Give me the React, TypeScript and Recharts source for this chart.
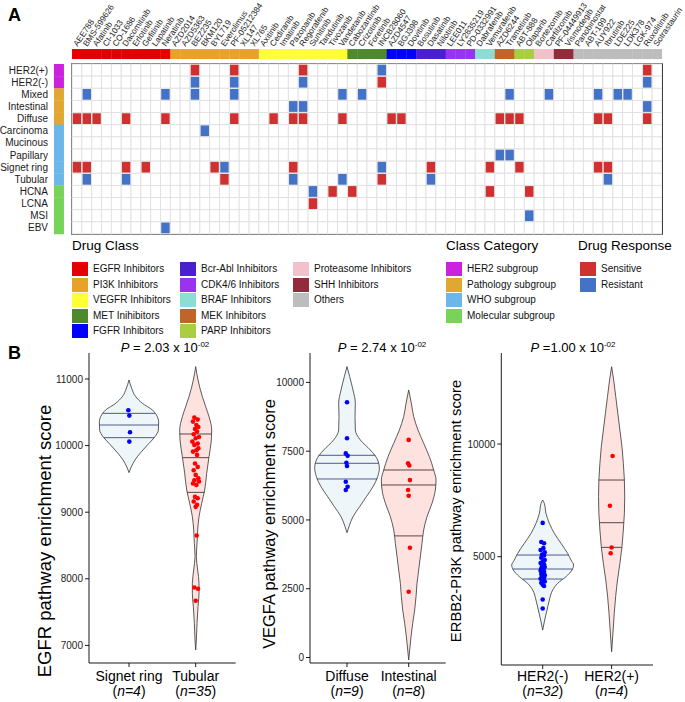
import React from 'react';
import { ScatterChart, ComposedChart, Scatter, Area, XAxis, YAxis, ReferenceArea, ReferenceLine } from 'recharts';

const FONT = '"Liberation Sans", Arial, Helvetica, sans-serif';

/* ================= Panel A data ================= */
const drugs = [
  'AEE788', 'BMS-599626', 'Afatinib', 'CI-1033', 'CO-1686', 'Dacomitinib', 'Erlotinib', 'Gefitinib', 'Lapatinib', 'Neratinib',
  'AZD2014', 'AZD5363', 'BEZ235', 'BKM120', 'BYL719', 'Everolimus', 'PF-05212384', 'XL147', 'XL765',
  'Axitinib', 'Cediranib', 'Imatinib', 'Pazopanib', 'Regorafenib', 'Sunitinib', 'Tandutinib', 'Tivozanib', 'Vandetanib',
  'Cabozantinib', 'Crizotinib', 'Foretinib', 'INCB28060',
  'AZD4547', 'BGJ398', 'Dovitinib',
  'Bosutinib', 'Dasatinib', 'Nilotinib',
  'LEE011', 'LY2835219', 'PD-0332991',
  'Dabrafenib', 'Vemurafenib',
  'AZD6244', 'Trametinib',
  'ABT-888', 'Olaparib',
  'Bortezomib', 'Carfilzomib',
  'PF-04449913', 'Vismodegib',
  'Panobinostat', 'ABT-199', 'AUY922', 'Ibrutinib', 'LDE225', 'LDK378', 'LGK-974', 'Ruxolitinib', 'Sotrastaurin',
];
const drugClassNames = [
  'EGFR Inhibitors', 'PI3K Inhibitors', 'VEGFR Inhibitors', 'MET Inihibitors', 'FGFR Inhibitors',
  'Bcr-Abl Inhibitors', 'CDK4/6 Inhibitors', 'BRAF Inhibitors', 'MEK Inhibitors', 'PARP Inhibitors',
  'Proteasome Inhibitors', 'SHH Inhibitors', 'Others',
];
const drugClassSizes = [10, 9, 9, 4, 3, 3, 3, 2, 2, 2, 2, 2, 9];
const drugClassColors = [
  '#E40000', '#E9A12E', '#FFFF33', '#4E8A2C', '#0000FF',
  '#4A20CC', '#9933EE', '#8CDDD2', '#C0652A', '#A9CD45',
  '#F2C1CC', '#922B3B', '#BDBDBD',
];
const rowNames = ['HER2(+)', 'HER2(-)', 'Mixed', 'Intestinal', 'Diffuse', 'Carcinoma', 'Mucinous', 'Papillary',
  'Signet ring', 'Tubular', 'HCNA', 'LCNA', 'MSI', 'EBV'];
const rowCategory = [0, 0, 1, 1, 1, 2, 2, 2, 2, 2, 3, 3, 3, 3];
const categoryNames = ['HER2 subgroup', 'Pathology subgroup', 'WHO subgroup', 'Molecular subgroup'];
const categoryColors = ['#CC22E0', '#E0A733', '#6CB6EA', '#77D35A'];
const responseNames = ['Sensitive', 'Resistant'];
const responseColors = ['#D0302F', '#4472C6'];
// drug column indices per row
const sensitiveCols = [
  [12, 16, 23, 58],
  [31],
  [],
  [],
  [0, 1, 2, 5, 9, 16, 20, 22, 23, 27, 32, 33, 43, 44, 45, 53, 54, 58],
  [],
  [],
  [],
  [0, 1, 5, 7, 14, 22, 36, 42, 45, 53, 54],
  [15, 31],
  [26, 28, 42, 46],
  [24],
  [],
  [],
];
const resistantCols = [
  [31],
  [12, 16, 23, 58],
  [1, 9, 12, 16, 27, 29, 44, 48, 53, 55, 56],
  [22, 23, 58],
  [],
  [13],
  [],
  [43, 44],
  [15, 31],
  [1, 5, 22, 27, 36, 54],
  [24],
  [],
  [46],
  [9],
];

/* ================= Panel B data ================= */
// violin outlines: [score, half-width in category units]
const signetOutline = [[10985, 0], [10860, 0.04], [10735, 0.1], [10635, 0.2], [10535, 0.35], [10434, 0.425], [10359, 0.445],
  [10234, 0.44], [10134, 0.39], [10034, 0.3], [9934, 0.21], [9834, 0.125], [9734, 0.06], [9594, 0]];
const signetQuant = [[10484, 0.39], [10309, 0.445], [10119, 0.38]];
const signetPts = [10530, 10450, 10200, 10060];
const signetJit = [-0.01, 0.005, 0.015, 0.005];

const tubularOutline = [[11185, 0], [10985, 0.035], [10735, 0.1], [10585, 0.15], [10434, 0.2], [10234, 0.24], [10084, 0.235],
  [9834, 0.2], [9584, 0.165], [9333, 0.135], [9133, 0.09], [8933, 0.05], [8733, 0.03], [8533, 0.02], [8332, 0.01],
  [8132, 0.03], [7932, 0.05], [7782, 0.05], [7582, 0.035], [7331, 0.02], [7081, 0.01], [6931, 0]];
const tubularQuant = [[10174, 0.24], [9819, 0.2], [9298, 0.13]];
const tubularPts = [10420, 10390, 10360, 10310, 10280, 10250, 10210, 10170, 10130, 10110,
  10060, 10030, 10010, 9960, 9930, 9910, 9860, 9730, 9680, 9630,
  9560, 9510, 9480, 9460, 9430, 9410, 9230, 9210, 9160, 9110,
  9080, 8650, 7870, 7850, 7670];
const tubularJit = [-0.02, 0.03, -0.04, 0.01, 0.04, -0.01, 0.02, -0.03, 0.05, 0.0,
  -0.05, 0.03, -0.02, 0.04, 0.01, -0.04, 0.02, -0.01, 0.03, -0.03,
  0.0, 0.04, -0.02, 0.05, -0.04, 0.01, -0.01, 0.03, -0.03, 0.02,
  0.0, 0.015, -0.02, 0.035, 0.0];

const diffuseOutline = [[10576, 0], [10212, 0.043], [9727, 0.097], [9242, 0.135], [8757, 0.13], [8272, 0.135], [7908, 0.216],
  [7545, 0.378], [7181, 0.497], [6878, 0.524], [6575, 0.497], [6211, 0.422], [5848, 0.314], [5484, 0.205], [5121, 0.097],
  [4757, 0.032], [4539, 0]];
const diffuseQuant = [[7351, 0.46], [7060, 0.514], [6490, 0.49]];
const diffusePts = [9280, 7970, 7420, 7330, 7080, 6960, 6390, 6210, 6090];
const diffuseJit = [0.0, 0.0, -0.02, 0.01, -0.01, 0.0, -0.02, 0.01, -0.02];

const intestinalOutline = [[9727, 0], [9242, 0.043], [8757, 0.081], [8272, 0.151], [7787, 0.243], [7302, 0.335], [6817, 0.405],
  [6454, 0.443], [6090, 0.432], [5606, 0.378], [5121, 0.297], [4636, 0.243], [4151, 0.216], [3666, 0.189], [3181, 0.162],
  [2697, 0.135], [2212, 0.119], [1727, 0.097], [1242, 0.065], [758, 0.038], [273, 0.016], [-91, 0]];
const intestinalQuant = [[6817, 0.405], [6272, 0.44], [4420, 0.23]];
const intestinalPts = [7910, 7060, 6980, 6450, 6090, 5880, 3990, 2390];
const intestinalJit = [0.0, -0.01, 0.01, 0.02, -0.01, 0.0, 0.02, 0.0];

const her2NegOutline = [[7515, 0], [7367, 0.024], [6923, 0.048], [6480, 0.097], [6036, 0.169], [5592, 0.266], [5148, 0.362],
  [4852, 0.411], [4630, 0.449], [4408, 0.425], [4112, 0.338], [3816, 0.217], [3520, 0.145], [3077, 0.097], [2633, 0.063],
  [2189, 0.029], [1745, 0]];
const her2NegQuant = [[5074, 0.377], [4453, 0.435], [4009, 0.29]];
const her2NegPts = [6500, 5650, 5600, 5380, 5300, 5200, 5100, 5050, 4950, 4850, 4780, 4720, 4660, 4600, 4540, 4480,
  4430, 4380, 4330, 4280, 4230, 4180, 4130, 4080, 4020, 3960, 3900, 3840, 3760, 3700, 3100, 2700];
const her2NegJit = [0.0, -0.02, 0.02, 0.01, -0.03, 0.03, -0.01, 0.02, -0.02, 0.03, 0.0, -0.03, 0.02, -0.01, 0.03, -0.02,
  0.01, -0.03, 0.02, 0.0, -0.02, 0.03, -0.01, 0.02, -0.03, 0.01, 0.03, -0.02, 0.0, 0.02, 0.0, 0.0];

const her2PosOutline = [[13433, 0], [12841, 0.03], [12102, 0.06], [11362, 0.09], [10622, 0.12], [9882, 0.15],
  [9143, 0.17], [8403, 0.185], [7663, 0.19], [6923, 0.185], [6184, 0.17], [5444, 0.15], [4704, 0.12], [3964, 0.085],
  [3225, 0.058], [2485, 0.038], [1745, 0.022], [783, 0]];
const her2PosQuant = [[8403, 0.185], [6509, 0.176], [5414, 0.149]];
const her2PosPts = [9470, 7260, 5410, 5150];
const her2PosJit = [0.014, -0.025, 0.0, -0.014];

/* ================= Panel A chart ================= */
const HM_X_DOMAIN: [number, number] = [-2.537, 59.5];
const HM_Y_DOMAIN: [number, number] = [-1.818, 13.668];
const HM_PLOT_W = 610;
const HM_PLOT_H = 188;
const COL_W = HM_PLOT_W / (HM_X_DOMAIN[1] - HM_X_DOMAIN[0]);
const ROW_H = HM_PLOT_H / (HM_Y_DOMAIN[1] - HM_Y_DOMAIN[0]);
const CLASS_BAR_ROW = -1.32;
const CATEGORY_BAR_COL = -1.83;

const drugClassOf: number[] = drugClassSizes.flatMap((n, g) => Array.from({ length: n }, () => g));
const gridCells = rowNames.flatMap((_, r) => drugs.map((__, c) => ({ c, r })));
const sensCells = sensitiveCols.flatMap((cols, r) => cols.map((c) => ({ c, r })));
const resCells = resistantCols.flatMap((cols, r) => cols.map((c) => ({ c, r })));
const classBar = drugs.map((_, c) => ({ c, r: CLASS_BAR_ROW, g: drugClassOf[c] }));
const categoryBar = rowNames.map((_, r) => ({ c: CATEGORY_BAR_COL, r, g: rowCategory[r] }));

const DrugTick = (p: any) => {
  const x = p.x + 0.5;
  const y = 47;
  return (
    <text x={x} y={y} transform={`rotate(-56 ${x} ${y})`} fontSize={8.3} fontFamily={FONT} fill="#1a1a1a">
      {drugs[Math.round(p.payload.value)]}
    </text>
  );
};
const RowTick = (p: any) => (
  <text x={48} y={p.y} dy={3.5} textAnchor="end" fontSize={10} fontFamily={FONT} fill="#1a1a1a">
    {rowNames[Math.round(p.payload.value)]}
  </text>
);

function Heatmap() {
  return (
    <ScatterChart width={685} height={240} margin={{ top: 47, right: 23, bottom: 4, left: 51 }}>
      <XAxis type="number" dataKey="c" orientation="top" domain={HM_X_DOMAIN} allowDataOverflow
        ticks={drugs.map((_, i) => i)} interval={0} height={1} axisLine={false} tickLine={false}
        tick={(p: any) => <DrugTick {...p} />} />
      <YAxis type="number" dataKey="r" domain={HM_Y_DOMAIN} reversed allowDataOverflow
        ticks={rowNames.map((_, i) => i)} interval={0} width={1} axisLine={false} tickLine={false}
        tick={(p: any) => <RowTick {...p} />} />
      <Scatter data={gridCells} isAnimationActive={false}
        shape={(p: any) => <rect x={p.cx - COL_W / 2} y={p.cy - ROW_H / 2} width={COL_W} height={ROW_H} fill="#ffffff" stroke="#e0e0e0" strokeWidth={0.9} />} />
      <Scatter data={sensCells} isAnimationActive={false}
        shape={(p: any) => <rect x={p.cx - COL_W / 2 + 0.7} y={p.cy - ROW_H / 2 + 0.7} width={COL_W - 1.4} height={ROW_H - 1.4} fill={responseColors[0]} />} />
      <Scatter data={resCells} isAnimationActive={false}
        shape={(p: any) => <rect x={p.cx - COL_W / 2 + 0.7} y={p.cy - ROW_H / 2 + 0.7} width={COL_W - 1.4} height={ROW_H - 1.4} fill={responseColors[1]} />} />
      <Scatter data={classBar} isAnimationActive={false}
        shape={(p: any) => <rect x={p.cx - COL_W / 2} y={p.cy - 5} width={COL_W + 0.3} height={10} fill={drugClassColors[p.payload.g]} />} />
      <Scatter data={categoryBar} isAnimationActive={false}
        shape={(p: any) => <rect x={p.cx - 5} y={p.cy - ROW_H / 2} width={10} height={ROW_H + 0.3} fill={categoryColors[p.payload.g]} />} />
      <ReferenceArea x1={-0.5} x2={59.5} y1={-0.5} y2={13.5} fill="none" fillOpacity={0} stroke="#111" strokeWidth={1.6} ifOverflow="visible" />
    </ScatterChart>
  );
}

/* ================= Legend ================= */
const LEG_ROWS = [269, 284.5, 300, 315.5, 331];

function Swatch({ x, y, color, label }: { x: number; y: number; color: string; label: string }) {
  return (
    <>
      <div style={{ position: 'absolute', left: x, top: y - 7, width: 16, height: 14, background: color }} />
      <div style={{ position: 'absolute', left: x + 21, top: y - 6, fontSize: 10, lineHeight: '12px', whiteSpace: 'nowrap', color: '#111' }}>{label}</div>
    </>
  );
}

function LegendBlock() {
  const colX = [72, 180, 293];
  const items: React.ReactNode[] = [];
  drugClassNames.forEach((name, i) => {
    const col = Math.floor(i / 5);
    const row = i % 5;
    items.push(<Swatch key={'d' + i} x={colX[col]} y={LEG_ROWS[row]} color={drugClassColors[i]} label={name} />);
  });
  categoryNames.forEach((name, i) => {
    items.push(<Swatch key={'c' + i} x={446} y={LEG_ROWS[i]} color={categoryColors[i]} label={name} />);
  });
  responseNames.forEach((name, i) => {
    items.push(<Swatch key={'r' + i} x={580} y={LEG_ROWS[i]} color={responseColors[i]} label={name} />);
  });
  const title = (x: number, t: string) => (
    <div style={{ position: 'absolute', left: x, top: 238, fontSize: 13.5, lineHeight: '16px', whiteSpace: 'nowrap' }}>{t}</div>
  );
  return (
    <>
      {title(72, 'Drug Class')}
      {title(446, 'Class Category')}
      {title(578, 'Drug Response')}
      {items}
    </>
  );
}

/* ================= Panel B charts ================= */
type Group = {
  pos: number; outline: number[][]; quant: number[][]; pts: number[]; jit: number[];
  fill: string; qColor: string; ptColor: string;
};
type ViolinCfg = {
  left: number; top: number; width: number; height: number;
  margin: { top: number; right: number; bottom: number; left: number };
  yAxisWidth: number; yDomain: [number, number]; yTicks: number[];
  labels: string[]; ns: number[]; groups: Group[];
};

const BLUE_FILL = '#EEF6F9';
const PINK_FILL = '#FDE2DF';
const BLUE_Q = '#3B4A82';
const PINK_Q = '#4A3434';

const violinConfigs: ViolinCfg[] = [
  {
    left: 0, top: 330, width: 240, height: 372,
    margin: { top: 23, right: 4.3, bottom: 9, left: 49 }, yAxisWidth: 40,
    yDomain: [6736, 11390], yTicks: [7000, 8000, 9000, 10000, 11000],
    labels: ['Signet ring', 'Tubular'], ns: [4, 35],
    groups: [
      { pos: 1, outline: signetOutline, quant: signetQuant, pts: signetPts, jit: signetJit, fill: BLUE_FILL, qColor: BLUE_Q, ptColor: '#0000FF' },
      { pos: 2, outline: tubularOutline, quant: tubularQuant, pts: tubularPts, jit: tubularJit, fill: PINK_FILL, qColor: PINK_Q, ptColor: '#FF0000' },
    ],
  },
  {
    left: 240, top: 330, width: 220, height: 372,
    margin: { top: 23, right: 14.3, bottom: 9, left: 40 }, yAxisWidth: 30,
    yDomain: [-200, 11070], yTicks: [0, 2500, 5000, 7500, 10000],
    labels: ['Diffuse', 'Intestinal'], ns: [9, 8],
    groups: [
      { pos: 1, outline: diffuseOutline, quant: diffuseQuant, pts: diffusePts, jit: diffuseJit, fill: BLUE_FILL, qColor: BLUE_Q, ptColor: '#0000FF' },
      { pos: 2, outline: intestinalOutline, quant: intestinalQuant, pts: intestinalPts, jit: intestinalJit, fill: PINK_FILL, qColor: PINK_Q, ptColor: '#FF0000' },
    ],
  },
  {
    left: 460, top: 330, width: 225, height: 372,
    margin: { top: 23, right: 32, bottom: 7, left: 11.3 }, yAxisWidth: 30,
    yDomain: [193, 14041], yTicks: [5000, 10000],
    labels: ['HER2(-)', 'HER2(+)'], ns: [32, 4],
    groups: [
      { pos: 1, outline: her2NegOutline, quant: her2NegQuant, pts: her2NegPts, jit: her2NegJit, fill: BLUE_FILL, qColor: BLUE_Q, ptColor: '#0000FF' },
      { pos: 2, outline: her2PosOutline, quant: her2PosQuant, pts: her2PosPts, jit: her2PosJit, fill: PINK_FILL, qColor: PINK_Q, ptColor: '#FF0000' },
    ],
  },
];

const CatTick = ({ x, payload, labels, ns, top }: any) => {
  const i = Math.round(payload.value) - 1;
  return (
    <g>
      <text x={x} y={681 - top} textAnchor="middle" fontSize={14} fontFamily={FONT} fill="#000">{labels[i]}</text>
      <text x={x} y={696 - top} textAnchor="middle" fontSize={14} fontFamily={FONT} fill="#000">
        (<tspan fontStyle="italic">n={ns[i]}</tspan>)
      </text>
    </g>
  );
};

function ViolinChart({ cfg }: { cfg: ViolinCfg }) {
  return (
    <ComposedChart layout="vertical" width={cfg.width} height={cfg.height} margin={cfg.margin}>
      <XAxis type="number" dataKey="x" domain={[0.4, 2.6]} allowDataOverflow ticks={[1, 2]} interval={0} height={30}
        axisLine={{ stroke: '#000', strokeWidth: 0.9 }} tickLine={{ stroke: '#000', strokeWidth: 0.9 }} tickSize={4}
        tick={(p: any) => <CatTick {...p} labels={cfg.labels} ns={cfg.ns} top={cfg.top} />} />
      <YAxis type="number" dataKey="v" domain={cfg.yDomain} reversed allowDataOverflow ticks={cfg.yTicks} interval={0}
        width={cfg.yAxisWidth} axisLine={{ stroke: '#000', strokeWidth: 0.9 }} tickLine={{ stroke: '#000', strokeWidth: 0.9 }}
        tickSize={4} tick={{ fontSize: 10, fill: '#222', fontFamily: FONT }} />
      {cfg.groups.map((g, gi) => (
        <Area key={'a' + gi} data={g.outline.map(([v, hw]) => ({ v, w: [g.pos - hw, g.pos + hw] }))} dataKey="w"
          type="monotone" stroke="#333" strokeWidth={0.8} fill={g.fill} fillOpacity={1} dot={false} activeDot={false}
          isAnimationActive={false} />
      ))}
      {cfg.groups.flatMap((g, gi) => g.quant.map(([v, hw], qi) => (
        <ReferenceLine key={'q' + gi + '-' + qi} segment={[{ x: g.pos - hw, y: v }, { x: g.pos + hw, y: v }]}
          stroke={g.qColor} strokeWidth={0.9} ifOverflow="visible" />
      )))}
      {cfg.groups.map((g, gi) => (
        <Scatter key={'s' + gi} data={g.pts.map((v, i) => ({ v, x: g.pos + g.jit[i] }))} isAnimationActive={false}
          shape={(p: any) => <circle cx={p.cx} cy={p.cy} r={2.3} fill={g.ptColor} />} />
      ))}
    </ComposedChart>
  );
}

const pTitles = [
  { x: 165, text: '2.03', eq: '= ' },
  { x: 382, text: '2.74', eq: '= ' },
  { x: 573, text: '1.00', eq: '=' },
];
const yTitles = [
  { x: 45, y: 541, size: 18.5, text: 'EGFR pathway enrichment score' },
  { x: 269, y: 524, size: 16.4, text: 'VEGFA pathway enrichment score' },
  { x: 456, y: 511, size: 14.8, text: 'ERBB2-PI3K pathway enrichment score' },
];

export default function App() {
  return (
    <div style={{ position: 'absolute', left: 0, top: 0, width: 685, height: 702, background: '#fff', fontFamily: FONT, color: '#000', overflow: 'hidden' }}>
      <div style={{ position: 'absolute', left: 0, top: 0 }}>
        <Heatmap />
      </div>
      <LegendBlock />
      {violinConfigs.map((cfg, i) => (
        <div key={i} style={{ position: 'absolute', left: cfg.left, top: cfg.top }}>
          <ViolinChart cfg={cfg} />
        </div>
      ))}
      {pTitles.map((t, i) => (
        <div key={'p' + i} style={{ position: 'absolute', left: t.x, top: 349, transform: 'translate(-50%, -50%)', fontSize: 13, whiteSpace: 'nowrap', lineHeight: '14px' }}>
          <i>P</i> {t.eq}{t.text} x 10<span style={{ fontSize: 8, position: 'relative', top: -5 }}>-02</span>
        </div>
      ))}
      {yTitles.map((t, i) => (
        <div key={'y' + i} style={{ position: 'absolute', left: t.x, top: t.y, transform: 'translate(-50%, -50%) rotate(-90deg)', fontSize: t.size, whiteSpace: 'nowrap', lineHeight: '1' }}>
          {t.text}
        </div>
      ))}
      <div style={{ position: 'absolute', left: 8, top: 5, fontSize: 18, fontWeight: 'bold', lineHeight: '20px' }}>A</div>
      <div style={{ position: 'absolute', left: 8, top: 343, fontSize: 18, fontWeight: 'bold', lineHeight: '20px' }}>B</div>
    </div>
  );
}
